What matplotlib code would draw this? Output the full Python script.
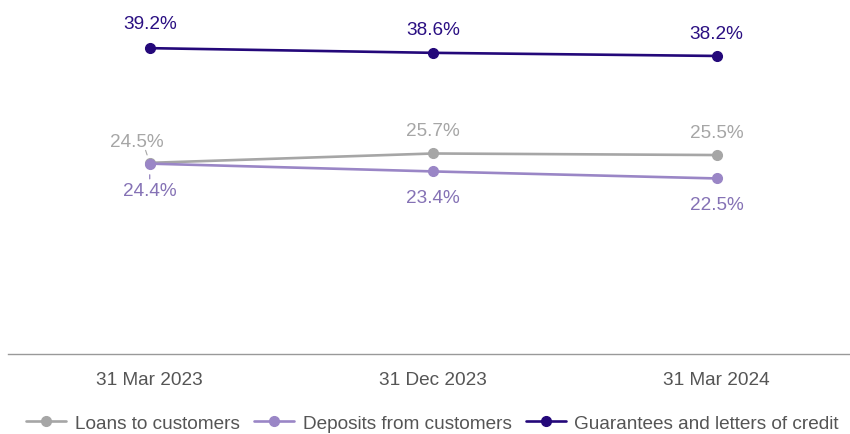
import matplotlib
matplotlib.use("Agg")
import matplotlib.pyplot as plt

plt.rcParams['font.family'] = ['Liberation Sans', 'DejaVu Sans']

dates = ['31 Mar 2023', '31 Dec 2023', '31 Mar 2024']
loans = [24.5, 25.7, 25.5]
deposits = [24.4, 23.4, 22.5]
guarantees = [39.2, 38.6, 38.2]

series = [
    ('Loans to customers', loans, '#a6a6a6', '#a6a6a6', 1),
    ('Deposits from customers', deposits, '#9a86c6', '#8572b5', -1),
    ('Guarantees and letters of credit', guarantees, '#24087a', '#2a0f82', 1),
]

fs = 13.7

fig = plt.figure(figsize=(8.5, 4.35), dpi=100)
ax = fig.add_axes([8 / 850, 80 / 435, 842 / 850, 355 / 435])

x = list(range(len(dates)))
for name, vals, col, tcol, side in series:
    ax.plot(x, vals, color=col, lw=1.9, marker='o', ms=7, label=name,
            solid_capstyle='round')
    for i, v in enumerate(vals):
        dx = 0
        dy = 19 * side
        if name.startswith('Loans'):
            dy = 16.5
            if i == 0:
                dx = -9
                dy = 15.5
        if name.startswith('Guarantees'):
            dy = 17.5 if i == 0 else 16.5
        ax.annotate(f'{v}%', (i, v), xytext=(dx, dy), textcoords='offset points',
                    ha='center', va='center', fontsize=fs, color=tcol)

# small leader ticks for the overlapping first labels
ax.annotate('', (0, loans[0]), xytext=(-3, 9), textcoords='offset points',
            arrowprops=dict(arrowstyle='-', color='#a6a6a6', lw=0.8,
                            shrinkA=0, shrinkB=6))
ax.annotate('', (0, deposits[0]), xytext=(0, -11), textcoords='offset points',
            arrowprops=dict(arrowstyle='-', color='#8572b5', lw=0.8,
                            shrinkA=0, shrinkB=8))

ax.set_xlim(-0.5, 2.47)
ax.set_ylim(0, 45.5)
ax.set_xticks(x)
ax.set_xticklabels(dates, fontsize=fs, color='#555555')
ax.tick_params(axis='x', length=0, pad=12)
ax.set_yticks([])
for s in ['top', 'right', 'left']:
    ax.spines[s].set_visible(False)
ax.spines['bottom'].set_color('#999999')
ax.spines['bottom'].set_linewidth(1.0)

fig.legend(loc='lower center', bbox_to_anchor=(0.509, -0.035), ncol=3,
           frameon=False, fontsize=fs, handlelength=2.1, handletextpad=0.45,
           columnspacing=0.75, labelcolor='#555555')

fig.savefig('out.png', dpi=100)
